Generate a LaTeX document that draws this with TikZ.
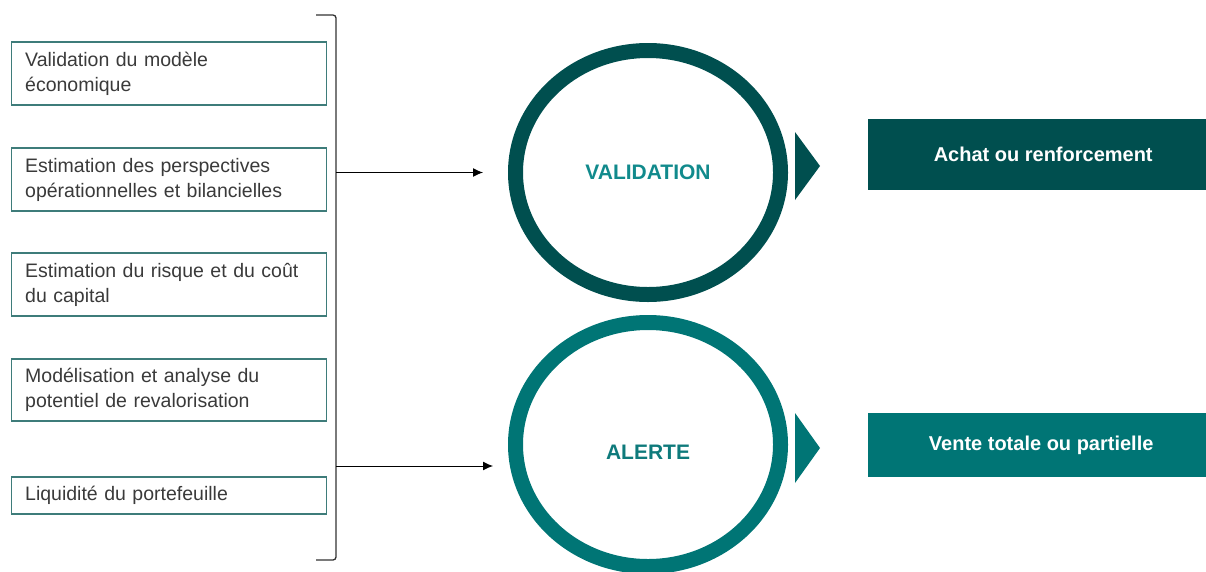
\documentclass[tikz,border=0pt]{standalone}
\usepackage{fontspec}
\setmainfont{Liberation Sans}
\usetikzlibrary{shapes.geometric,arrows.meta}
\definecolor{darkteal}{HTML}{004F4F}
\definecolor{midteal}{HTML}{007575}
\definecolor{txtteal}{HTML}{118A8C}
\definecolor{txtteal2}{HTML}{0E7A7B}
\definecolor{boxline}{HTML}{3E7C7A}
\definecolor{txtgray}{HTML}{3A3A3A}
\tikzset{
  critbox/.style={draw=boxline, line width=1.4pt, rectangle, anchor=west,
    inner xsep=13.5pt, inner ysep=0pt, text width=288pt, align=left,
    text=txtgray, font=\fontsize{19.5}{25}\selectfont},
  ring/.style={ellipse, draw=#1, line width=15pt, inner sep=0pt,
    minimum width=265pt, minimum height=244pt,
    font=\bfseries\fontsize{21}{25}\selectfont},
  tri/.style={fill=#1, draw=none},
  outbox/.style={rectangle, fill=#1, draw=none, anchor=west, inner sep=0pt,
    minimum width=338pt, text=white, font=\bfseries\fontsize{20}{24}\selectfont},
  conn/.style={draw=black, line width=1pt, -{Latex[length=10pt,width=9pt]}},
  brace/.style={draw=black!80, line width=1.3pt, rounded corners=3pt}
}
\begin{document}
\begin{tikzpicture}[x=1pt,y=-1pt]
\useasboundingbox (0,0) rectangle (1206,571);

% left criteria boxes
\node[critbox, minimum height=63pt] (b1) at (11,73.5) {Validation du modèle\\économique};
\node[critbox, minimum height=63pt] (b2) at (11,179.5) {Estimation des perspectives\\opérationnelles et bilancielles};
\node[critbox, minimum height=63pt] (b3) at (11,284.5) {Estimation du risque et du coût\\du capital};
\node[critbox, minimum height=62pt] (b4) at (11,390) {Modélisation et analyse du\\potentiel de revalorisation};
\node[critbox, minimum height=37pt] (b5) at (11,495.5) {Liquidité du portefeuille};

% bracket
\coordinate (brT) at (316,15);
\coordinate (brB) at (316,560);
\coordinate (brA) at (336,172.5);
\coordinate (brC) at (336,466);
\draw[brace] (brT) -- (336,15) -- (336,560) -- (brB);

% rings
\node[ring=darkteal, text=txtteal] (val) at (648,172.5) {VALIDATION};
\node[ring=midteal, text=txtteal2] (alr) at (648,444.5) {\raisebox{-15pt}[0pt][0pt]{ALERTE}};

% arrow targets
\coordinate (tipA) at (483,172.5);
\coordinate (tipB) at (493,466);
\draw[conn] (brA) -- (tipA);
\draw[conn] (brC) -- (tipB);

% triangles
\coordinate (t1a) at (795,132);
\coordinate (t1b) at (820,166);
\coordinate (t1c) at (795,200);
\fill[tri=darkteal] (t1a) -- (t1b) -- (t1c) -- cycle;
\coordinate (t2a) at (795,413);
\coordinate (t2b) at (820,448);
\coordinate (t2c) at (795,483);
\fill[tri=midteal] (t2a) -- (t2b) -- (t2c) -- cycle;

% outcome boxes
\node[outbox=darkteal, minimum height=71pt] (o1) at (868,154.5) {\hspace*{12pt}Achat ou renforcement};
\node[outbox=midteal, minimum height=64pt] (o2) at (868,445) {\hspace*{8pt}Vente totale ou partielle};
\end{tikzpicture}
\end{document}
